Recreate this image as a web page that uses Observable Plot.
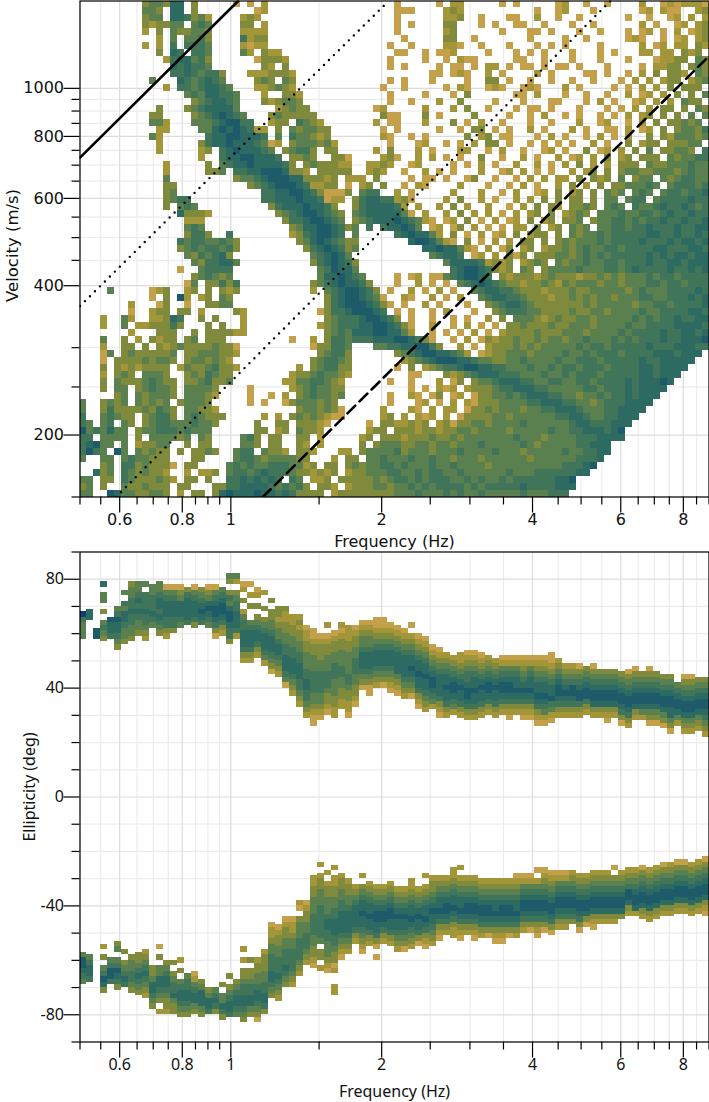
<!DOCTYPE html>
<html><head><meta charset="utf-8">
<style>html,body{margin:0;background:#fff}svg{display:block}</style>
<script src="https://cdn.jsdelivr.net/npm/d3@7"></script>
<script src="https://cdn.jsdelivr.net/npm/@observablehq/plot@0.6"></script>
</head><body><div id="c"></div>
<script>
const levelDomain = ["1","2","3","4","5","6","7","8"];
const levelColors = ["#c4a04a","#a39638","#7f8a3c","#5b8050","#41755a","#2c6a62","#1d5b6a","#0f3f70"];
const freqMajor = [0.6,0.8,1,2,4,6,8];
const freqMinor = [0.5,0.55,0.65,0.7,0.75,0.85,0.9,0.95,1.5,2.5,3,3.5,4.5,5,5.5,6.5,7,7.5,8.5,9];
const velMajor = [200,400,600,800,1000];
const velMinor = [150,250,300,450,500,550,650,700,750,850,900,950];
const angMajor = [-80,-40,0,40,80];
const angMinor = [-90,-70,-60,-50,-30,-20,-10,10,20,30,50,60,70,90];
const lineSolid = [[0.5,725],[1.034,1500]];
const lineDotted1 = [[0.5,364],[2.065,1500]];
const lineDotted2 = [[0.59,150],[5.72,1500]];
const lineDashed = [[1.158,150],[9,1161]];
// velocity histogram: each row is "column:levels ...", top row first
const velocityRows = [
"9:3443 13:66 16:3 22:1 24:1 26:2 45:1 51:1 53:22 60:1 62:1 68:12 72:1 75:1 80:2 83:12 85:1 86:22 88:21",
"9:44 11:3 13:66 16:3 25:1 26:2 45:11 47:1 52:232 65:1 68:12 73:1 80:12 83:21 85:1 88:23",
"9:34 11:4 13:665 16:34 18:2 23:2 24:3 25:2 45:1 52:2 53:23 57:1 61:1 62:1 65:2 68:1 71:1 78:1 81:1 84:12 87:2 89:2",
"9:32 11:33 13:44 16:454 23:3 24:3 26:2 45:1 47:1 52:33 57:1 59:1 62:11 66:1 70:1 73:1 80:2 82:1 85:12 88:2 89:3",
"9:2 11:3 13:4 14:3 15:3443 23:2 24:2 25:2 26:2 45:1 52:23 60:1 64:11 67:1 71:1 74:1 78:1 80:12 83:1 85:2 87:12 89:3",
"11:2 13:4 15:4453 23:5 24:2 25:3 26:3 46:1 52:3 53:3 56:1 64:1 69:1 72:1 78:1 79:21 83:1 85:1 86:2 88:23",
"9:2 11:2 13:5 15:5554 23:2 24:1 25:2 26:2 44:1 47:1 52:22 54:1 57:1 61:1 65:1 67:1 69:1 74:1 80:2 82:12 85:2 86:2 88:3 89:2",
"11:3 13:6 14:5 16:5 17:54 23:4 24:2 26:32 28:2 45:1 46:1 49:1 51:11 53:2 58:1 62:1 64:1 66:1 70:1 74:1 76:1 80:22 83:2 84:2 86:32 88:3",
"12:2 13:5664 17:55 18:3 25:1 26:3 27:33 29:2 44:1 49:1 52:1 54:21 56:1 62:11 66:1 70:1 74:1 78:1 82:1 83:2 84:23 86:3 88:43",
"13:656 16:55 18:4 26:3 27:2 29:3 44:1 46:1 51:1 53:11 56:1 58:22 61:1 63:11 66:1 68:11 71:1 75:1 80:1 82:2 83:23 85:3 87:3 88:43",
"13:5 14:56 16:54 18:553 24:22 26:2 27:33 29:3 30:2 50:1 51:1 53:12 55:1 58:2 60:1 65:2 67:1 72:11 75:1 78:1 80:2 82:3 84:33 86:2 88:4 89:3",
"10:4 14:6 15:5 16:45 18:654 25:3 26:4 27:3 29:43 44:1 46:1 50:1 55:1 58:33 61:1 64:1 67:1 70:1 73:1 77:1 79:2 81:2 83:23 85:3 87:23 89:4",
"12:2 14:55 16:45 18:6655 21:4 25:22 27:3 28:4 29:32 43:1 46:1 52:1 54:2 55:1 58:12 60:1 63:12 65:1 69:2 71:1 76:1 78:1 80:2 82:2 84:3 86:33 88:3",
"15:45 17:4 18:66 20:554 26:2 29:33 30:3 31:2 44:1 49:1 53:1 55:3 62:11 65:2 69:1 72:1 75:1 78:2 80:12 83:2 85:3 87:3 89:4",
"16:34 18:566 20:65 22:4 26:3 27:2 28:3 29:44 31:3 44:1 47:1 51:2 54:3 59:1 63:1 67:11 72:1 74:2 76:1 79:12 82:2 84:2 86:43 88:3",
"11:3 15:3 16:4 17:5 18:66 20:665 22:4 28:2 29:34 31:33 42:1 43:2 49:2 53:2 55:3 58:1 62:1 64:11 67:1 71:1 75:1 77:1 79:2 81:2 83:3 84:3 86:3 88:43",
"10:3 11:3 16:34 18:5 19:676 21:65 23:4 27:3 28:4 29:3 30:3 31:3 32:33 43:3 44:1 45:1 49:3 51:1 56:3 61:1 64:1 66:2 69:1 71:1 74:1 76:1 78:2 80:23 83:3 85:3 87:4 89:4",
"10:44 12:2 16:44 18:45 20:6776 23:55 27:2 28:3 29:3 31:54 33:3 34:2 42:2 44:1 45:1 49:2 53:3 55:1 57:2 60:1 64:1 67:1 71:2 74:12 78:1 80:2 82:3 84:33 86:43 88:4",
"11:22 17:44 19:67 21:676 24:54 25:22 28:3 30:4 31:3 32:44 34:33 43:1 45:1 51:1 54:1 56:33 59:1 61:1 64:2 66:1 70:2 72:1 75:11 78:2 80:1 81:2 83:3 85:34 87:4 88:35",
"10:4 11:2 18:56 20:6776 24:665 28:4 30:5 31:44 33:3 34:2 35:3 43:2 44:1 47:1 49:1 55:3 57:23 60:11 65:1 67:2 69:1 72:1 74:2 76:1 78:2 81:3 83:3 84:2 85:44 87:43 89:4",
"11:2 17:3 18:5 19:66 21:76 23:665 26:4 27:1 28:2 30:3 31:44 33:4 34:34 36:2 44:1 48:1 49:2 52:1 54:1 56:2 58:33 61:1 64:1 66:1 68:1 70:1 73:2 75:1 78:3 80:23 82:3 84:33 86:34 88:4",
"11:2 17:23 20:56 22:766 25:65 27:4 29:3 30:4 31:55 33:3 35:3 36:3 42:2 44:3 48:2 50:1 54:2 55:2 58:1 60:2 63:1 66:12 69:1 72:3 74:12 77:2 79:3 81:4 83:33 85:44 87:3 89:5",
"17:2 20:5 21:66 23:776 26:665 30:3 31:34 33:3 36:3 37:3 38:1 43:23 45:1 48:2 50:2 52:1 54:1 57:3 60:1 63:2 65:1 68:2 70:12 73:2 75:3 77:23 80:33 82:3 84:4 85:34 87:45 89:5",
"12:2 18:3 20:45 22:66 24:766 27:665 30:3 32:3 33:43 35:3 36:32 38:2 41:22 43:3 44:2 47:1 48:2 53:1 55:1 57:2 59:1 62:2 65:2 67:1 69:2 71:3 73:2 75:2 77:33 79:3 81:43 83:34 85:44 87:54 89:4",
"12:2 18:33 20:4 22:556 25:67 27:7766 31:3 30:33 32:2 34:33 36:3 37:3 38:3 41:23 43:2 46:1 49:2 51:1 53:1 57:2 60:12 63:2 65:1 67:1 70:2 72:23 75:3 77:3 78:44 80:33 82:44 84:43 86:45 88:44",
"12:4 22:3 23:44 25:56 27:777 30:66 32:3 33:3 34:3 35:2 36:3 38:22 40:2 42:3 47:1 49:11 52:1 55:1 56:3 59:1 62:1 64:2 66:2 68:2 69:2 71:3 73:3 74:23 77:4 79:3 80:44 83:43 85:45 87:54 89:4",
"12:33 24:3 25:45 27:677 30:76 32:5 33:2 34:2 35:3 36:3 38:1 40:2 41:3 43:3 46:1 48:2 49:1 54:2 58:1 61:1 63:2 65:1 68:2 70:3 72:2 74:3 76:33 78:44 80:4 81:54 84:4 85:55 87:54 89:5",
"12:3 13:4 26:5 27:566 30:776 33:53 35:1 36:1 37:1 38:3 40:455 45:2 47:1 53:2 57:2 60:1 62:2 65:1 66:2 68:3 70:23 73:3 75:4 76:34 79:4 80:54 83:45 85:54 87:55 89:6",
"12:3 13:4 14:55 26:5 27:56 29:667 32:665 35:1 36:22 39:3 40:5 41:66 43:55 45:23 47:1 52:2 54:3 57:2 59:1 62:2 64:2 66:3 68:3 70:33 73:3 75:44 78:4 79:55 82:45 84:55 86:56 88:55",
"12:3 14:45 16:4 27:3 28:56 30:667 33:665 36:3 39:3 40:566 43:665 46:2 48:2 51:2 53:3 55:2 58:2 61:1 63:2 65:3 67:3 68:2 70:33 72:4 73:3 75:4 76:54 79:54 81:45 83:65 85:56 87:54 89:5",
"14:6 15:3 16:33 18:2 28:34 30:56 32:77 34:6 35:54 37:3 39:4 40:566 43:666 46:4 47:1 49:2 52:2 54:3 56:2 58:2 60:1 62:2 64:2 65:3 67:3 69:2 70:34 72:3 74:4 75:44 77:5 78:44 80:55 82:45 84:65 86:56 88:55",
"15:2 16:2 17:2 29:3 30:5 31:56 33:776 36:54 39:34 41:56 43:667 46:65 48:42 50:1 52:1 53:2 55:3 57:1 59:2 61:1 62:2 64:3 66:2 67:3 69:3 70:3 71:4 73:34 75:4 76:55 78:4 79:54 81:5 82:56 84:55 86:65 88:56",
"15:4 16:55 17:4 30:3 31:4 32:66 34:776 37:5 38:3 39:4 41:5 43:5 44:667 47:6 48:4 50:1 51:2 53:1 54:3 56:2 58:1 60:1 62:2 63:2 65:3 67:2 68:3 70:43 72:4 74:44 76:5 77:54 79:55 81:6 82:55 84:5 85:65 87:5 88:66",
"15:35 17:54 18:3 21:5 30:2 31:3 32:5 33:67 35:76 37:5 39:4 45:567 48:66 50:4 51:2 53:3 55:1 57:2 59:1 60:2 62:3 64:2 65:3 66:3 68:3 70:4 71:34 73:4 74:54 76:5 77:55 79:5 80:56 82:65 84:56 86:55 88:65",
"14:5 15:4 16:55 18:44 20:5 21:4 22:3 31:3 32:4 33:6 34:7 35:6 36:5 37:4 38:3 39:3 47:67 49:76 51:4 52:2 53:1 55:3 57:1 59:2 61:2 63:3 64:3 66:3 68:34 70:3 71:4 72:44 74:5 75:45 77:5 78:55 80:65 82:5 83:56 85:56 87:65 89:6",
"14:3 15:4 16:54 18:55 20:45 22:3 32:3 33:5 34:6 35:7 36:6 37:5 38:34 49:667 52:66 54:4 55:2 56:1 58:2 60:1 61:3 63:2 64:3 66:23 68:3 69:4 70:34 72:54 74:4 75:55 77:45 79:55 81:56 83:65 85:55 87:66 89:5",
"15:4 16:3 17:54 19:56 21:3 33:4 34:5 35:6 36:7 37:6 38:4 50:4566 54:5 56:1 57:2 59:2 61:3 62:1 63:3 65:3 66:3 67:3 68:44 70:3 71:45 73:4 74:5 75:45 77:55 79:5 80:56 82:5 83:6 84:5 85:66 87:56 89:6",
"16:4 17:3 18:55 20:66 22:4 33:3 34:5 35:6 36:7 37:6 38:5 39:3 52:466 55:665 58:2 59:3 60:2 61:3 63:2 64:3 65:4 66:3 68:4 69:34 71:4 72:5 73:44 75:5 76:5 77:45 79:55 81:65 83:56 85:65 87:66 89:6",
"14:1 17:4 18:5 19:55 21:5 34:4 35:5 36:7 37:6 38:6 39:4 53:5677 57:65 59:3 60:2 61:3 63:4 64:3 66:3 67:4 68:4 69:4 70:45 72:4 73:44 75:5 76:54 78:5 79:65 81:5 82:55 84:6 85:55 87:65 89:6",
"16:345 18:543 21:4 34:4 35:6 36:6 37:7 38:6 39:5 40:4 45:1 47:12 50:11 52:4 53:567 56:76 58:5 60:3 61:2 62:33 64:3 65:2 66:343 69:33 71:2 72:3 73:343 76:43 78:4 79:44 81:54 83:55 85:45 87:55 89:5",
"15:1 16:4 18:3 19:3 20:5 21:3 22:5 33:3 34:4 35:5 36:6 37:7 38:6 39:6 40:5 41:3 45:1 48:2 50:1 52:1 54:45 56:676 59:54 61:3 62:3 63:2 64:3 65:34 67:3 68:24 70:3 71:44 73:43 75:44 77:3 78:44 80:45 82:54 84:55 86:45 88:55",
"4:4 10:1 11:2 12:3 15:2 16:3 18:3 20:3 21:23 33:2 35:4 36:5 37:6 38:7 39:7 40:6 41:5 42:3 44:1 47:2 49:1 51:2 53:1 56:4 57:566 60:55 62:4 63:3 64:33 66:2 67:33 69:3 70:43 72:34 74:44 76:4 77:43 79:45 81:44 83:45 85:55 87:56 89:5",
"10:1 12:3 14:7 15:2 17:2 18:3 20:4 21:3 35:3 36:5 37:6 38:7 39:7 40:6 41:5 42:4 43:1 46:2 47:1 50:2 52:1 54:2 57:4 58:5 59:66 61:55 63:4 64:33 66:3 67:23 69:34 71:3 72:43 74:44 76:34 78:4 79:45 81:54 83:45 85:55 87:65 89:6",
"7:2 11:1 12:3 15:1 18:3 19:3 20:4 21:4 35:3 36:5 37:6 38:7 39:7 40:7 41:6 42:5 43:3 44:1 46:1 49:2 51:1 55:1 58:3 59:4 60:566 63:5 64:43 66:33 68:3 69:33 71:34 73:3 74:44 76:4 77:44 79:34 81:45 83:54 85:55 87:55 89:6",
"7:1 10:2 11:3 12:3 14:3 15:3 17:2 22:3 23:2 34:1 35:3 36:5 37:5 38:6 39:7 40:7 41:7 42:6 43:5 45:1 47:1 50:1 52:2 56:1 59:3 60:4 61:5 62:55 64:44 66:3 67:33 69:3 70:43 72:34 74:43 76:4 77:44 79:4 80:54 82:45 84:55 86:56 88:65",
"3:2 6:4 7:2 10:2 11:2 12:3 13:6 14:5 17:3 19:3 23:2 35:3 36:4 37:5 38:5 39:5 40:6 41:7 42:7 43:6 44:5 45:3 47:1 50:1 53:1 55:1 58:2 60:3 62:4 63:4 64:4 65:3 66:23 68:4 69:3 70:34 72:4 73:34 75:4 76:44 78:45 80:4 81:54 83:55 85:65 87:56 89:6",
"3:2 6:4 8:2 9:2 10:3 11:3 12:3 13:5 14:3 18:3 20:3 23:2 34:2 35:3 36:4 37:5 38:5 39:5 40:6 41:6 42:7 43:7 44:6 45:5 46:3 47:1 50:2 53:1 55:2 57:1 59:1 61:3 62:3 63:4 64:3 65:3 66:3 67:43 69:3 70:44 72:4 73:34 75:44 77:4 78:54 80:45 82:55 84:56 86:66 88:65",
"7:2 11:3 12:3 13:3 16:3 18:3 19:3 20:3 21:3 22:22 35:3 36:4 37:5 38:4 39:666 42:776 45:6 46:4 47:2 50:1 52:1 54:1 56:2 58:1 60:2 61:3 62:3 63:3 64:3 65:43 67:3 68:34 70:4 71:43 73:44 75:4 76:45 78:4 79:55 81:5 82:56 84:55 86:66 88:56",
"3:4 6:3 8:2 10:3 11:2 12:33 15:3 16:4 18:3 19:3 20:3 30:1 33:2 35:3 36:5 37:5 38:4 39:5 40:5 41:56 43:667 46:76 48:5 49:3 50:1 53:1 55:2 57:1 58:3 59:2 60:3 61:3 62:4 63:3 64:34 66:3 67:4 68:4 69:3 70:44 72:5 73:4 74:44 76:54 78:5 79:45 81:55 83:65 85:56 87:66 89:7",
"3:2 6:3 7:3 9:3 11:3 12:23 14:4 15:3 16:33 18:3 19:4 20:3 21:3 22:1 33:1 34:3 35:3 36:5 37:5 38:4 42:4 43:4 44:5 45:566 48:77 50:5 51:3 54:2 56:1 58:2 59:3 60:3 61:3 62:4 63:3 64:4 65:34 67:4 68:4 69:4 70:45 72:4 73:55 75:4 76:55 78:5 79:55 81:65 83:55 85:66 87:65 89:5",
"3:1 4:4 6:3 7:4 8:3 9:3 10:3 11:3 12:3 13:4 15:3 16:3 17:4 18:4 19:4 20:3 21:3 22:2 34:3 35:4 36:5 37:5 38:3 45:3 46:4 47:5 48:67 50:766 53:5 54:4 55:2 57:1 58:2 59:3 60:34 62:4 63:4 64:3 65:4 66:4 67:4 68:4 69:5 70:44 72:5 73:45 75:5 76:54 78:55 80:5 81:56 83:6 84:65 86:66 88:6",
"3:1 5:3 6:3 7:3 8:3 9:4 10:3 11:4 12:4 13:3 15:3 16:4 17:4 18:3 19:4 20:3 21:2 33:3 34:4 35:5 36:5 37:4 38:3 46:2 47:3 48:4 49:5 50:67 52:776 55:6 56:54 58:4 59:3 60:34 62:4 63:5 64:4 65:44 67:4 68:5 69:4 70:45 72:55 74:4 75:5 76:55 78:5 79:56 81:55 83:6 84:66 86:66",
"3:3 5:3 6:2 7:3 8:2 9:3 10:3 11:3 12:3 14:2 15:4 16:3 17:3 18:4 19:5 20:3 21:3 22:2 31:2 33:3 34:4 35:5 36:5 37:3 38:3 45:1 47:3 49:2 50:3 51:4 52:5 53:5 54:6 55:77 57:66 59:5 60:5 61:4 62:44 64:5 65:4 66:45 68:4 69:5 70:54 72:55 74:5 75:45 77:55 79:5 80:66 82:5 83:66 85:66",
"3:2 5:3 6:4 7:3 9:4 10:4 11:4 12:3 15:3 16:4 17:3 18:5 19:4 20:3 21:3 30:2 31:3 32:3 33:4 34:5 35:4 36:4 37:3 38:2 47:1 48:1 52:3 53:2 54:3 55:4 56:5 57:6 58:6 59:6 60:5 61:5 62:5 63:4 64:44 66:5 67:4 68:45 70:4 71:55 73:5 74:4 75:55 77:5 78:55 80:6 81:65 83:66 85:6",
"3:3 5:4 6:3 7:3 8:3 9:4 10:5 11:4 12:3 13:3 15:3 16:3 17:4 18:5 19:3 20:3 21:4 29:2 30:2 31:4 32:4 33:5 34:5 35:4 36:3 37:2 44:1 47:1 51:2 53:1 54:3 56:3 57:4 58:4 59:5 60:6 61:6 62:6 63:5 64:5 65:4 66:45 68:5 69:4 70:45 72:5 73:45 75:5 76:55 78:6 79:5 80:66 82:6 83:7 84:6",
"3:3 5:4 6:4 8:3 9:4 10:5 11:4 12:4 13:3 15:4 16:4 17:4 18:4 19:3 24:1 30:2 31:3 32:4 33:5 34:4 35:4 36:3 37:3 47:1 49:1 51:2 52:1 53:2 55:2 56:3 57:3 58:3 59:4 60:5 61:5 62:6 63:6 64:6 65:5 66:5 67:4 68:4 69:4 70:4 71:45 73:5 74:4 75:55 77:5 78:6 79:56 81:6 82:66",
"5:3 6:4 8:4 9:3 10:4 11:4 12:4 13:3 15:4 16:4 17:4 18:3 19:2 24:1 27:1 29:2 31:3 32:4 33:5 34:4 35:4 36:3 37:4 44:1 47:2 48:1 50:1 51:3 53:1 54:2 56:1 57:3 58:3 59:4 60:4 61:5 62:4 63:5 64:6 65:6 66:6 67:5 68:5 69:4 70:4 71:3 72:44 74:5 75:4 76:55 78:6 79:5 80:66 82:6",
"0:4 3:3 4:4 5:3 6:4 8:4 9:3 10:4 11:3 12:4 14:3 15:4 16:4 17:4 18:3 24:1 26:1 29:1 30:3 31:4 32:4 33:4 34:3 35:4 36:3 44:1 48:1 49:2 51:1 53:2 55:2 56:1 57:3 58:3 59:3 60:4 61:4 62:4 63:4 64:5 65:5 66:6 67:6 68:6 69:5 70:5 71:4 72:4 73:3 74:4 75:5 76:5 77:56 79:66 81:6",
"0:4 3:3 4:5 5:3 6:3 7:3 8:3 9:4 10:3 11:5 12:4 13:3 15:4 16:4 17:3 18:3 19:2 31:3 32:4 33:4 34:3 35:4 36:3 37:1 43:2 47:2 48:1 50:2 52:2 53:2 55:1 56:3 57:3 58:4 59:3 60:4 61:4 62:4 63:3 64:4 65:4 66:5 67:5 68:6 69:6 70:6 71:5 72:4 73:4 74:4 75:5 76:5 77:66 79:6 80:6",
"0:5 3:4 4:5 5:4 6:3 7:3 9:3 10:4 11:5 12:5 13:3 15:4 16:5 17:4 18:3 19:3 20:3 26:2 28:2 30:3 31:4 32:3 33:4 34:3 35:2 36:1 37:1 43:2 44:3 46:2 48:2 49:1 50:2 52:2 54:1 55:3 56:3 57:3 58:3 59:4 60:4 61:3 62:4 63:4 64:4 65:4 66:4 67:4 68:5 69:5 70:6 71:6 72:5 73:4 74:4 75:5 76:5 77:6 78:6 79:6",
"0:5 1:4 3:4 4:5 6:4 7:3 9:3 10:4 11:5 12:5 13:4 14:4 15:4 16:5 17:4 18:4 19:3 25:3 28:3 29:3 31:3 32:3 33:3 34:2 35:1 41:1 43:3 44:3 45:2 46:2 47:3 48:2 49:3 51:2 52:3 53:1 54:3 55:3 56:4 57:4 58:3 59:4 60:4 61:4 62:4 63:5 64:4 65:4 66:4 67:4 68:4 69:4 70:5 71:6 72:6 73:5 74:5 75:5 76:6 77:6 78:6",
"0:74 2:5 3:4 4:6 5:4 6:4 8:3 9:4 10:4 11:5 12:5 13:5 14:4 15:5 16:4 17:4 18:4 25:3 26:3 28:23 31:4 32:3 33:3 34:2 41:2 42:3 43:3 45:3 46:3 47:3 48:2 49:3 50:3 51:2 52:3 53:3 54:4 55:4 56:3 57:4 58:4 59:4 60:4 61:3 62:4 63:4 64:4 65:4 66:4 67:5 68:4 69:4 70:5 71:5 72:6 73:6 74:6 75:5 76:6 77:7",
"0:55 3:4 4:4 5:4 6:4 8:3 10:4 11:4 12:4 13:4 14:3 15:4 17:4 18:3 23:4 24:5 25:3 27:3 28:3 31:3 32:3 34:2 40:2 41:3 43:33 45:3233 49:34 51:33 53:4 54:344 57:4 58:4444 62:5 63:44 65:4344 69:44 71:5 72:5566 76:66",
"0:56 2:7 3:4 4:4 6:4 8:2 9:3 10:3 11:4 12:4 15:3 17:3 18:3 23:4 24:4 25:3 27:3 28:3 31:3 32:2 34:2 40:3 42:3 43:444 46:3 47:34 49:43 51:4 52:4 53:344 56:45 58:4 59:444 62:45 64:43 66:44 68:44 70:455 73:66 75:6",
"0:56 1:7 2:5 3:4 5:7 6:4 8:4 9:3 10:4 11:3 12:3 14:3 16:3 17:3 18:4 19:3 22:4 23:5 24:5 26:4 27:3 28:3 29:2 31:3 32:3 33:2 37:2 38:2 40:3 41:44 43:4 44:45 46:34 48:44 50:34 52:4 53:45 55:4 56:44 58:4 59:5 60:44 62:4 63:34 65:44 67:4 68:45 70:44 72:5566",
"0:4 3:4 4:4 6:4 7:5 8:4 9:4 10:3 11:3 12:3 16:3 17:3 22:4 23:5 24:5 25:4 26:3 27:4 28:4 29:4 30:4 31:3 32:3 36:2 38:3 39:3 41:4 42:4 43:54 45:4 46:45 48:44 50:5 51:4 52:4 53:34 55:44 57:3 58:44 60:4 61:44 63:43 65:44 67:4 68:44 70:45 72:556",
"3:3 4:4 6:5 7:5 8:3 9:4 10:3 11:3 12:3 13:1 15:3 16:3 21:4 22:5 23:4 24:5 25:4 26:4 27:5 28:5 29:5 30:4 31:4 32:2 33:3 35:3 36:3 38:3 39:4 40:3 41:44 43:55 45:4 46:5 47:4 48:44 50:54 52:45 54:4 55:44 57:4 58:34 60:4 61:44 63:44 65:4 66:44 68:45 70:55 72:67",
"2:6 3:3 4:4 6:5 7:4 8:3 9:4 10:3 11:3 12:2 15:2 17:2 18:2 19:3 21:4 22:5 23:5 24:4 25:5 26:6 27:5 28:5 29:5 30:4 31:3 32:3 33:2 34:3 35:2 36:3 38:2 39:3 40:3 41:4 42:4 43:4 44:5 45:5 46:4 47:4 48:5 49:4 50:55 52:4 53:4 54:5 55:4 56:44 58:4 59:44 61:5 62:44 64:45 66:55 68:55 70:566",
"0:4 1:4 3:3 4:3 6:5 7:4 8:3 9:3 10:3 11:4 12:3 13:2 15:3 16:3 18:3 21:5 22:5 23:6 24:5 25:6 26:5 27:6 28:5 30:5 31:4 33:2 34:2 35:3 37:3 38:3 39:3 40:3 41:3 42:4 43:3 44:4 45:5 46:5 47:4 48:5 49:4 50:5 51:5 52:5 53:4 54:4 55:5 56:4 57:5 58:4 59:4 60:5 61:4 62:5 63:5 64:55 66:5 67:56 69:67",
"0:34 3:3 6:4 7:3 8:3 9:4 10:3 11:3 12:3 14:3 15:3 19:3 20:3 21:5 22:56 24:66 26:6 27:5 28:4 29:5 30:4 31:5 32:3 34:3 35:3 36:2 38:2 39:3 40:3 41:3 42:4 43:4 44:3 45:4 46:4 47:5 48:4 49:5 50:4 51:5 52:5 53:5 54:5 55:4 56:5 57:4 58:5 59:5 60:5 61:5 62:5 63:6 64:5 65:5 66:5 67:5 68:66 70:6",
"0:44 4:7 5:6 6:4 7:4 8:3 9:3 10:4 11:4 12:3 14:2 16:3 17:3 19:3 20:6 21:766 24:67 26:66 28:5 29:6 30:5 31:3 32:3 33:3 34:3 36:2 37:3 38:3 39:3 40:3 41:3 42:3 43:3 44:3 45:4 46:4 47:4 48:5 49:4 50:4 51:4 52:5 53:4 54:5 55:4 56:4 57:5 58:4 59:4 60:4 61:4 62:4 63:5 64:4 65:4 66:4 67:5 68:5 69:5"
];
// ellipticity histogram: one [top angle, levels going down in 2 degree cells] for every column
const upperBand = [
[68,"85444"],[69,"66"],[62,"77"],[79,"6.44.3.4543"],[66,"7665"],[70,"45766543"],[76,"4.54665443"],[79,"34455655443"],[79,"4456565443"],[79,"4.555655432"],
[78,"44555654"],[79,"4456656543"],[78,"1456665532"],[78,"145666553"],[78,"13466654"],[77,"3566665"],[78,"14566653"],[77,"3456765"],[78,"13467654"],[78,"1456776531"],
[77,"456776532"],[82,"43.3546776553"],[82,"42.345566652"],[79,"12.3.2455666532"],[79,"1.2.3..45666532"],[77,"12.3.34566532"],[76,"2..3.345666542"],[73,"3.334456665431"],[70,"3323445665432"],[70,"322334455666541"],
[67,"223344556665432"],[67,"23233445566655432"],[63,"12233444556655432"],[62,"112334445555443211"],[60,"1233344555544321"],[64,"2.123344455543321"],[61,"1233445554443322"],[64,"2123344455443322"],[63,"22233444455433221"],[63,"123344555443321"],
[65,"1234456665431"],[65,"12344566654311"],[66,"1123456665432"],[66,"1123456665431"],[64,"1234566654321"],[63,"1234566664321"],[62,"1234566665432"],[64,"1.234566765431"],[60,"12345667665321"],[59,"12345667665432"],
[56,"123456776542"],[55,"1234566665321"],[53,"234566766532"],[52,"23456776542"],[53,"223456766532"],[54,"1234556776532"],[54,"1234566766532"],[53,"123456766532"],[52,"23456776532"],[51,"23456766532"],
[52,"12456776532"],[52,"124567765321"],[52,"12456676532"],[52,"123456765321"],[52,"124566765321"],[52,"1234566765321"],[52,"1234566765421"],[53,"1123456675421"],[51,"23456776532"],[49,"2345676532"],
[49,"2345776532"],[49,"1345677532"],[48,"345677532"],[49,"1345677632"],[47,"345677632"],[47,"3456776321"],[47,"345677632"],[46,"3456776531"],[47,"13456776532"],[48,"1345677632"],
[46,"345677642"],[48,"13456776431"],[46,"3456776431"],[45,"3456776431"],[45,"34567766431"],[42,"45677642"],[45,"13456776432"],[45,"13456776432"],[44,"3456776432"],[44,"34567765432"]
];
const lowerBand = [
[-57,"477654"],[-58,"45665"],[-60,""],[-54,"2.3.45763"],[-59,"45775"],[-53,"34.457653"],[-56,"3.34565"],[-58,"3445543"],[-57,"33456543"],[-56,"234565432"],
[-62,"33466543"],[-54,"1.3.4466543.2"],[-60,"3456654332"],[-60,"3.34556433"],[-59,"2.3.4566543"],[-65,"45566543"],[-64,"12456643"],[-67,"3466643"],[-70,"34665"],[-70,"45653"],
[-68,"3.44653"],[-65,"3.345665"],[-67,"3456654"],[-55,"2.2.3345566543"],[-59,"3.334556643"],[-59,"233445665431"],[-56,"233344556653"],[-46,"12234455566543"],[-47,"12334455565432"],[-44,"1233445556543"],
[-44,"1223445555432"],[-38,"21.34445555432"],[-38,"123344555432"],[-29,"22334445555443321"],[-24,"2.2334445555554.33.2"],[-27,"2.23344456655444321"],[-25,"2.223344556665543312..22"],[-28,"2334455666654321"],[-30,"23344566665432"],[-32,"23456666532"],
[-28,"2.3456676654321"],[-31,"234566766532"],[-32,"234567766531.1"],[-32,"23456776532"],[-31,"234567766532"],[-33,"234567665432"],[-33,"234567665431"],[-30,"2234566765432"],[-33,"23456766531"],[-28,"2.234566765321"],
[-29,"2334567665432"],[-29,"234566765321"],[-29,"23456776532"],[-26,"2234566765322"],[-25,"2.234566765321"],[-29,"23456776532"],[-29,"234567765321"],[-30,"23456776532"],[-30,"23456776531"],[-30,"234566765321"],
[-30,"234567765321"],[-30,"23456776531"],[-28,"123456676532"],[-28,"12456776532"],[-28,"12456776531"],[-26,"1.24567765321"],[-26,"123456776531"],[-27,"123456776531"],[-27,"12456776532"],[-27,"12456776532"],
[-27,"2345677653"],[-28,"23456776531"],[-28,"2345677631"],[-27,"23456776321"],[-27,"2345677632"],[-27,"2345677632"],[-25,"1.345677632"],[-27,"234567763"],[-26,"234577632"],[-26,"234567762"],
[-25,"1345677632"],[-26,"2345677632"],[-25,"2345677632"],[-24,"1345677632"],[-24,"2345677632"],[-23,"1345677632"],[-23,"1345677632"],[-24,"2345677632"],[-23,"2345677632"],[-22,"13456776321"]
];

const nCols = 90, nRows = velocityRows.length;
const fEdge = i => 0.5 * Math.pow(18, i / nCols);
const vEdge = j => 1500 * Math.pow(0.1, j / nRows);
const velCells = [];
velocityRows.forEach((row, j) => row.split(" ").forEach(item => {
  const [c, s] = item.split(":");
  [...s].forEach((ch, k) => { if (ch !== ".") {
    const i = +c + k;
    velCells.push({x1: fEdge(i), x2: fEdge(i + 1), y1: vEdge(j + 1), y2: vEdge(j), level: ch});
  }});
}));
const angCells = [];
[upperBand, lowerBand].forEach(band => band.forEach(([topAngle, s], i) => {
  [...s].forEach((ch, k) => { if (ch !== ".") {
    angCells.push({x1: fEdge(i), x2: fEdge(i + 1), y1: topAngle - 2 * k - 2, y2: topAngle - 2 * k, level: ch});
  }});
}));

const colorScale = {type: "ordinal", domain: levelDomain, range: levelColors};
const xScale = {type: "log", domain: [0.5, 9]};
const fmt = d => String(d);
const black = "#000";

function freqMarks(labelDy, labelSize) {
  return [
    Plot.axisX(freqMinor, {ticks: Infinity, tickSize: 8, tickFormat: () => "", stroke: black, label: null, strokeWidth: 1.2}),
    Plot.axisX(freqMajor, {ticks: Infinity, tickSize: 16, tickPadding: 1, tickFormat: fmt, stroke: black, fill: "#111", label: null, strokeWidth: 1.2}),
    Plot.text(["Frequency (Hz)"], {frameAnchor: "bottom", dy: labelDy, fill: "#111", fontSize: labelSize})
  ];
}

const velChart = Plot.plot({
  width: 709, height: 551,
  marginLeft: 79.5, marginRight: 0.5, marginTop: 0.5, marginBottom: 54.5,
  style: {fontFamily: "DejaVu Sans", fontSize: "16px", background: "#fff"},
  x: xScale,
  y: {type: "log", domain: [150, 1500]},
  color: colorScale,
  marks: [
    Plot.gridX(freqMinor, {stroke: "#ececec", strokeOpacity: 1, strokeWidth: 1.2}),
    Plot.gridY(velMinor, {stroke: "#ececec", strokeOpacity: 1, strokeWidth: 1.2}),
    Plot.gridX(freqMajor, {stroke: "#dcdcdc", strokeOpacity: 1, strokeWidth: 1.2}),
    Plot.gridY(velMajor, {stroke: "#dcdcdc", strokeOpacity: 1, strokeWidth: 1.2}),
    Plot.rect(velCells, {x1: "x1", x2: "x2", y1: "y1", y2: "y2", fill: "level", shapeRendering: "crispEdges"}),
    Plot.line(lineSolid, {x: d => d[0], y: d => d[1], stroke: black, strokeWidth: 2.6, clip: true}),
    Plot.line(lineDotted1, {x: d => d[0], y: d => d[1], stroke: black, strokeWidth: 2.4, strokeDasharray: "0,7", strokeLinecap: "round", clip: true}),
    Plot.line(lineDotted2, {x: d => d[0], y: d => d[1], stroke: black, strokeWidth: 2.4, strokeDasharray: "0,7", strokeLinecap: "round", clip: true}),
    Plot.line(lineDashed, {x: d => d[0], y: d => d[1], stroke: black, strokeWidth: 2.6, strokeDasharray: "11,6", clip: true}),
    Plot.frame({stroke: black, strokeWidth: 1.2}),
    ...freqMarks(50, 16),
    Plot.axisY(velMinor, {ticks: Infinity, tickSize: 8, tickFormat: () => "", stroke: black, label: null, strokeWidth: 1.2}),
    Plot.axisY(velMajor, {ticks: Infinity, tickSize: 16, tickPadding: 0, tickFormat: fmt, stroke: black, fill: "#111", label: null, strokeWidth: 1.2}),
    Plot.text(["Velocity (m/s)"], {frameAnchor: "left", textAnchor: "middle", dx: -67, dy: -3.5, rotate: -90, fill: "#111", fontSize: 16.5})
  ]
});

const angChart = Plot.plot({
  width: 709, height: 551,
  marginLeft: 79.5, marginRight: 0.5, marginTop: 0.5, marginBottom: 60.5,
  style: {fontFamily: "Noto Sans", fontSize: "16px", background: "#fff"},
  x: xScale,
  y: {domain: [-90, 90]},
  color: colorScale,
  marks: [
    Plot.gridX(freqMinor, {stroke: "#ececec", strokeOpacity: 1, strokeWidth: 1.2}),
    Plot.gridY(angMinor, {stroke: "#ececec", strokeOpacity: 1, strokeWidth: 1.2}),
    Plot.gridX(freqMajor, {stroke: "#dcdcdc", strokeOpacity: 1, strokeWidth: 1.2}),
    Plot.gridY(angMajor, {stroke: "#dcdcdc", strokeOpacity: 1, strokeWidth: 1.2}),
    Plot.rect(angCells, {x1: "x1", x2: "x2", y1: "y1", y2: "y2", fill: "level", shapeRendering: "crispEdges"}),
    Plot.frame({stroke: black, strokeWidth: 1.2}),
    ...freqMarks(55, 16),
    Plot.axisY(angMinor, {tickSize: 8, tickFormat: () => "", stroke: black, label: null, strokeWidth: 1.2}),
    Plot.axisY(angMajor, {tickSize: 16, tickPadding: 0, tickFormat: fmt, stroke: black, fill: "#111", label: null, strokeWidth: 1.2}),
    Plot.text(["Ellipticity (deg)"], {frameAnchor: "left", textAnchor: "middle", dx: -50, dy: -10, rotate: -90, fill: "#111", fontSize: 16})
  ]
});
document.getElementById("c").append(velChart, angChart);
</script></body></html>
